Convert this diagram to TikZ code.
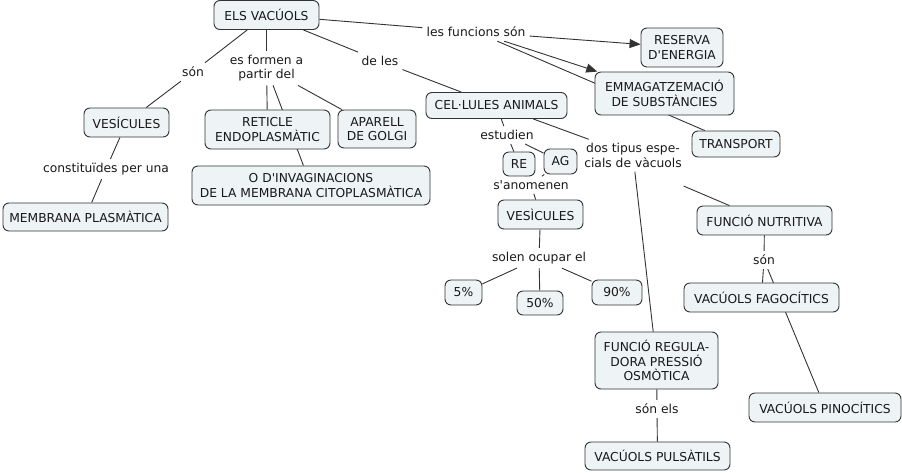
\documentclass[tikz,border=0pt]{standalone}
\usepackage{fontspec}
\setmainfont{DejaVu Sans}
\usetikzlibrary{arrows.meta,backgrounds}
\definecolor{boxfill}{HTML}{EEF3F5}
\definecolor{ln}{HTML}{333333}
\newcommand{\ap}{\textquotesingle}
\begin{document}
\begin{tikzpicture}[x=1pt,y=-1pt,
  font=\fontsize{12.3}{14.5}\selectfont,
  cbox/.style={draw=ln, fill=boxfill, rounded corners=6pt, line width=0.9pt, align=center, inner sep=0pt, text=black!90},
  lab/.style={align=center, inner sep=4pt, text=black!90},
  conn/.style={draw=ln, line width=0.9pt},
  arr/.style={conn, -{Triangle[length=11pt,width=9pt]}}]
\useasboundingbox (0,0) rectangle (902,472);

% concept boxes
\node[cbox, minimum width=105pt, minimum height=29pt] (els) at (266.5,15) {ELS VACÚOLS};
\node[cbox, minimum width=82pt, minimum height=39pt] (res) at (682,47.5) {RESERVA\\D\ap ENERGIA};
\node[cbox, minimum width=139pt, minimum height=43pt] (emm) at (664.5,93.5) {EMMAGATZEMACIÓ\\DE SUBSTÀNCIES};
\node[cbox, minimum width=88pt, minimum height=26pt] (trans) at (736,144) {TRANSPORT};
\node[cbox, minimum width=141pt, minimum height=26pt] (cel) at (496.5,105.5) {CEL·LULES ANIMALS};
\node[cbox, minimum width=85pt, minimum height=29pt] (vesi) at (126.5,122.5) {VESÍCULES};
\node[cbox, minimum width=125pt, minimum height=39pt] (ret) at (267.5,129.5) {RETICLE\\ENDOPLASMÀTIC};
\node[cbox, minimum width=78pt, minimum height=38pt] (apa) at (377,129) {APARELL\\DE GOLGI};
\node[cbox, minimum width=238pt, minimum height=39pt] (oinv) at (311,185.5) {O D\ap INVAGINACIONS\\DE LA MEMBRANA CITOPLASMÀTICA};
\node[cbox, minimum width=165pt, minimum height=28pt] (memb) at (85.5,217) {MEMBRANA PLASMÀTICA};
\node[cbox, minimum width=32pt, minimum height=24pt] (re) at (519,164) {RE};
\node[cbox, minimum width=33pt, minimum height=25pt] (ag) at (560.5,161.5) {AG};
\node[cbox, minimum width=85pt, minimum height=29pt] (ves2) at (540.5,214.5) {VESÌCULES};
\node[cbox, minimum width=37pt, minimum height=25pt] (p5) at (463.5,292.5) {5\%};
\node[cbox, minimum width=46pt, minimum height=24pt] (p50) at (540,303) {50\%};
\node[cbox, minimum width=50pt, minimum height=25pt] (p90) at (617,292.5) {90\%};
\node[cbox, minimum width=135pt, minimum height=29pt] (nutr) at (764.5,220.5) {FUNCIÓ NUTRITIVA};
\node[cbox, minimum width=155pt, minimum height=29pt] (fago) at (761.5,297.5) {VACÚOLS FAGOCÍTICS};
\node[cbox, minimum width=123pt, minimum height=57pt] (reg) at (656.5,360.5) {FUNCIÓ REGULA-\\DORA PRESSIÓ\\OSMÒTICA};
\node[cbox, minimum width=152pt, minimum height=29pt] (pino) at (825,407.5) {VACÚOLS PINOCÍTICS};
\node[cbox, minimum width=145pt, minimum height=28pt] (puls) at (657.5,456) {VACÚOLS PULSÀTILS};

% linking phrases
\node[lab] (lfs) at (476,32) {les funcions són};
\node[lab] (son1) at (193,72) {són};
\node[lab] (esf) at (266.5,68) {es formen a\\partir del};
\node[lab] (dles) at (380,61) {de les};
\node[lab] (cons) at (106,169) {constituïdes per una};
\node[lab] (est) at (507,135) {estudien};
\node[lab] (sano) at (531,185) {s\ap anomenen};
\node[lab] (dos) at (633,155.5) {dos tipus espe-\\cials de vàcuols};
\node[lab] (sol) at (539,258) {solen ocupar el};
\node[lab] (son2) at (764,260) {són};
\node[lab] (sonels) at (657,409) {són els};

\begin{scope}[on background layer]
\draw[conn] (els) -- (lfs);
\draw[arr] (lfs) -- (res);
\draw[arr] (lfs) -- (emm);
\draw[conn] (lfs) -- (trans);
\draw[conn] (els) -- (son1);
\draw[conn] (son1) -- (vesi);
\draw[conn] (els) -- (esf);
\draw[conn] (esf) -- (ret);
\draw[conn] (esf) -- (oinv);
\draw[conn] (esf) -- (apa);
\draw[conn] (els) -- (dles);
\draw[conn] (dles) -- (cel);
\draw[conn] (vesi) -- (cons);
\draw[conn] (cons) -- (memb);
\draw[conn] (cel) -- (est);
\draw[conn] (est) -- (re);
\draw[conn] (est) -- (ag);
\draw[conn] (re) -- (sano);
\draw[conn] (ag) -- (sano);
\draw[conn] (sano) -- (ves2);
\draw[conn] (cel) -- (dos);
\draw[conn, shorten <=55pt] ([yshift=-9pt]dos.center) -- (nutr);
\draw[conn] (dos) -- (reg);
\draw[conn] (ves2) -- (sol);
\draw[conn] (sol) -- (p5);
\draw[conn] (sol) -- (p50);
\draw[conn] (sol) -- (p90);
\draw[conn] (nutr) -- (son2);
\draw[conn] (son2) -- (fago);
\draw[conn] (son2) -- (pino);
\draw[conn] (reg) -- (sonels);
\draw[conn] (sonels) -- (puls);
\end{scope}
\end{tikzpicture}
\end{document}
